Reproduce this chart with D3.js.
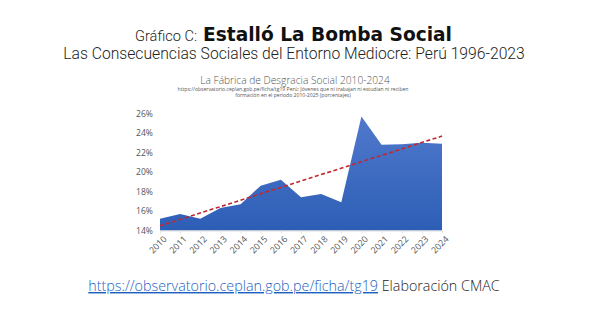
<!DOCTYPE html>
<html><head><meta charset="utf-8">
<script src="https://cdn.jsdelivr.net/npm/d3@7"></script>
<style>
html,body{margin:0;padding:0;background:#fff;}
svg{display:block;}
</style>
</head><body>
<svg id="c" width="589" height="331"></svg>
<script>
const years = [2010,2011,2012,2013,2014,2015,2016,2017,2018,2019,2020,2021,2022,2023,2024];
const values = [15.2,15.7,15.2,16.3,16.7,18.6,19.2,17.4,17.75,16.9,25.7,22.8,22.85,23.0,22.9];
const yTicks = [14,16,18,20,22,24,26];

const svg = d3.select("#c");
const x = d3.scaleLinear().domain([2010,2024]).range([160,442]);
const y = d3.scaleLinear().domain([14,26]).range([230.5,113.5]);

function fitWidth(sel, target){
  const node = sel.node();
  const w = node.getComputedTextLength();
  const fs = parseFloat(sel.style("font-size"));
  sel.style("font-size", (fs*target/w).toFixed(2)+"px");
}

// Headings
const t1a = svg.append("text").attr("x",197).attr("y",41).attr("text-anchor","end")
  .style("font-family","Roboto,sans-serif").style("font-weight","300").style("font-size","16px").attr("fill","#222")
  .text("Gráfico C:");
fitWidth(t1a, 62);
const t1b = svg.append("text").attr("x",452).attr("y",41).attr("text-anchor","end")
  .style("font-family","'DejaVu Sans',sans-serif").style("font-weight","bold").style("font-size","16px").attr("fill","#111")
  .text("Estalló La Bomba Social");
fitWidth(t1b, 249);
const t2 = svg.append("text").attr("x",294).attr("y",59).attr("text-anchor","middle")
  .style("font-family","Roboto,sans-serif").style("font-weight","300").style("font-size","16px").attr("fill","#222")
  .text("Las Consecuencias Sociales del Entorno Mediocre: Perú 1996-2023");
fitWidth(t2, 462);

// Chart title
svg.append("text").attr("x",295).attr("y",83.5).attr("text-anchor","middle")
  .style("font-family","'Open Sans',sans-serif").style("font-weight","300").style("font-size","10.2px").attr("fill","#555")
  .text("La Fábrica de Desgracia Social 2010-2024");
svg.append("text").attr("x",293).attr("y",90.5).attr("text-anchor","middle")
  .style("font-family","'Open Sans',sans-serif").style("font-size","5.1px").attr("fill","#555")
  .text("https://observatorio.ceplan.gob.pe/ficha/tg19 Perú: Jóvenes que ni trabajan ni estudian ni reciben");
svg.append("text").attr("x",293).attr("y",97).attr("text-anchor","middle")
  .style("font-family","'Open Sans',sans-serif").style("font-size","5.1px").attr("fill","#555")
  .text("formación en el periodo 2010-2025 (porcentajes)");

// gradient
const defs = svg.append("defs");
const g = defs.append("linearGradient").attr("id","ag").attr("x1",0).attr("y1",0).attr("x2",0).attr("y2",1);
g.append("stop").attr("offset","0%").attr("stop-color","#5079cc");
g.append("stop").attr("offset","100%").attr("stop-color","#2d5eb6");

const data = years.map((yr,i)=>({yr, v: values[i]}));
const area = d3.area().x(d=>x(d.yr)).y0(y(14)).y1(d=>y(d.v));
svg.append("path").datum(data).attr("d",area).attr("fill","url(#ag)");

// axes
const yAxis = svg.append("g").attr("transform","translate(155,0)")
  .call(d3.axisLeft(y).tickValues(yTicks).tickFormat(d=>d+"%").tickSize(0).tickPadding(2));
yAxis.select(".domain").remove();
yAxis.selectAll("text").style("font-family","'Open Sans',sans-serif").style("font-size","8.6px").attr("fill","#555").attr("text-anchor","start").attr("x",-19);

const xAxis = svg.append("g").attr("transform",`translate(0,${y(14)})`)
  .call(d3.axisBottom(x).tickValues(years).tickFormat(d3.format("d")).tickSize(3).tickSizeOuter(0));
xAxis.select(".domain").attr("stroke","#e0e0e0");
xAxis.selectAll(".tick line").attr("stroke","#e0e0e0");
xAxis.selectAll("text").style("font-family","'Open Sans',sans-serif").style("font-size","8.8px").attr("fill","#555")
  .attr("text-anchor","end").attr("transform","rotate(-45)").attr("dx","-0.2em").attr("dy","0.6em");

// trend line (least squares from data)
const n = years.length;
const mx = d3.mean(years), my = d3.mean(values);
const slope = d3.sum(years.map((yr,i)=>(yr-mx)*(values[i]-my))) / d3.sum(years.map(yr=>(yr-mx)*(yr-mx)));
const icpt = my - slope*mx;
const trend = [years[0], years[n-1]].map(yr=>({yr, v: icpt + slope*yr}));
svg.append("path").datum(trend)
  .attr("d", d3.line().x(d=>x(d.yr)).y(d=>y(d.v)))
  .attr("stroke","#c0282d").attr("stroke-width",1.6).attr("stroke-dasharray","4,2.5").attr("fill","none");

// footer
const f = svg.append("text").attr("x",294).attr("y",291).attr("text-anchor","middle")
  .style("font-family","'Open Sans',sans-serif").style("font-weight","300").style("font-size","14.3px");
f.append("tspan").text("https://observatorio.ceplan.gob.pe/ficha/tg19").attr("fill","#1d5fbf").style("text-decoration","underline");
f.append("tspan").text(" Elaboración CMAC").attr("fill","#222");
</script>
</body></html>
